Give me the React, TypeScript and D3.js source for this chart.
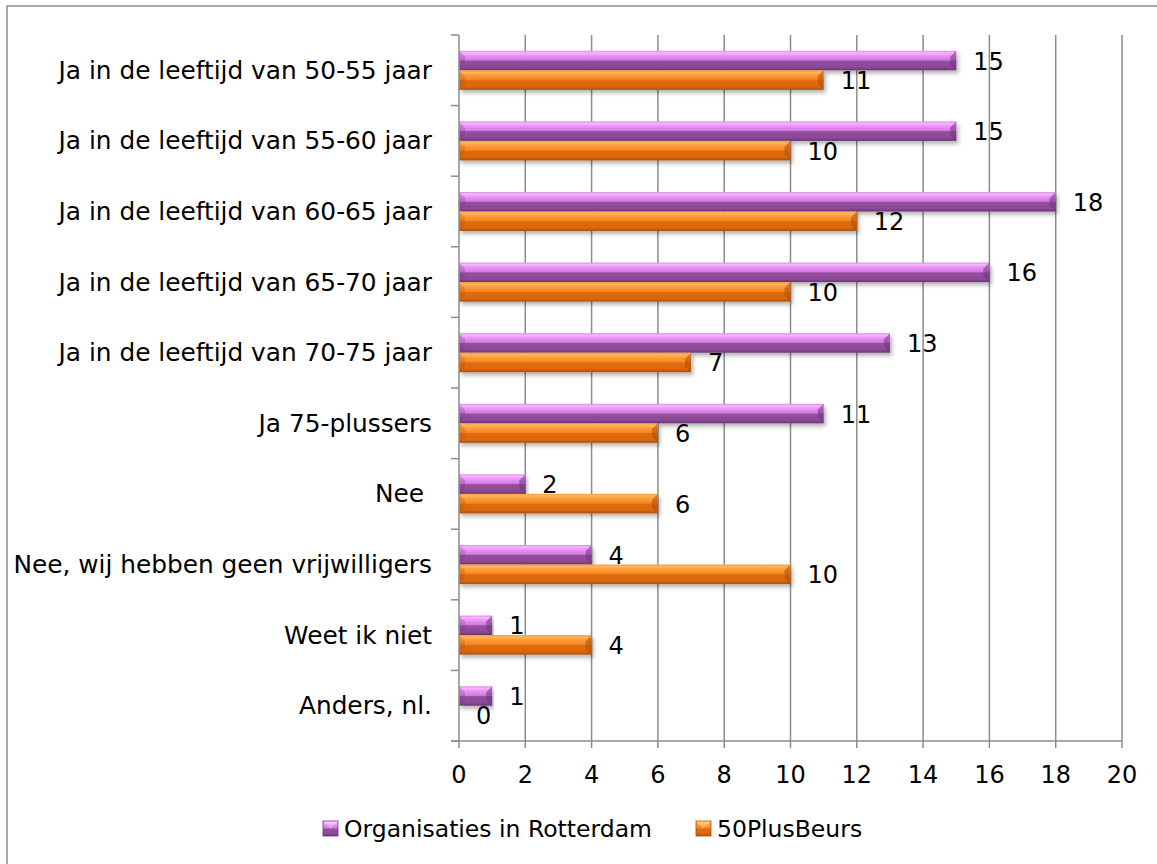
import React from "react";
import * as d3 from "d3";

const categories = [
  "Ja in de leeftijd van 50-55 jaar",
  "Ja in de leeftijd van 55-60 jaar",
  "Ja in de leeftijd van 60-65 jaar",
  "Ja in de leeftijd van 65-70 jaar",
  "Ja in de leeftijd van 70-75 jaar",
  "Ja 75-plussers",
  "Nee ",
  "Nee, wij hebben geen vrijwilligers",
  "Weet ik niet",
  "Anders, nl.",
];
const rotterdam = [15, 15, 18, 16, 13, 11, 2, 4, 1, 1];
const plusBeurs = [11, 10, 12, 10, 7, 6, 6, 10, 4, 0];
const xTicks = [0, 2, 4, 6, 8, 10, 12, 14, 16, 18, 20];
const seriesNames = ["Organisaties in Rotterdam", "50PlusBeurs"];

const FONT = "'DejaVu Sans', Verdana, sans-serif";

export default function App() {
  const W = 1157, H = 864;
  const x = d3.scaleLinear().domain([0, 20]).range([459, 1122]);
  const y = d3.scaleBand<string>().domain(categories).range([35, 741]).paddingInner(0).paddingOuter(0);
  const barH = 19.5;
  const series = [
    { name: seriesNames[0], values: rotterdam, grad: "gP", face: "#6e3480", offset: -barH },
    { name: seriesNames[1], values: plusBeurs, grad: "gO", face: "#a94e0c", offset: 0 },
  ];
  const bounds = d3.range(categories.length + 1).map((i) => 35 + i * y.bandwidth());

  return (
    <svg width={W} height={H} style={{ position: "absolute", left: 0, top: 0, background: "#fff" }} fontFamily={FONT}>
      <defs>
        <linearGradient id="gP" x1="0" y1="0" x2="0" y2="1">
          <stop offset="0" stopColor="#d98ae8" />
          <stop offset="0.1" stopColor="#f8b6ff" />
          <stop offset="0.22" stopColor="#ee98f8" />
          <stop offset="0.48" stopColor="#cf78de" />
          <stop offset="0.52" stopColor="#96509f" />
          <stop offset="0.85" stopColor="#8b4896" />
          <stop offset="1" stopColor="#6a3475" />
        </linearGradient>
        <linearGradient id="gO" x1="0" y1="0" x2="0" y2="1">
          <stop offset="0" stopColor="#f89a3c" />
          <stop offset="0.1" stopColor="#ffb65a" />
          <stop offset="0.22" stopColor="#ffa040" />
          <stop offset="0.48" stopColor="#f4851e" />
          <stop offset="0.52" stopColor="#e26c0e" />
          <stop offset="0.85" stopColor="#d9660c" />
          <stop offset="1" stopColor="#a9500c" />
        </linearGradient>
        <filter id="sh" x="-5%" y="-30%" width="110%" height="180%">
          <feDropShadow dx="2" dy="3" stdDeviation="2" floodColor="#000" floodOpacity="0.3" />
        </filter>
      </defs>

      {/* frame */}
      <rect x={7} y={6} width={1160} height={870} fill="none" stroke="#8a8a8a" strokeWidth={1.5} />

      {/* gridlines */}
      {xTicks.slice(1).map((t) => (
        <line key={"g" + t} x1={x(t)} x2={x(t)} y1={35} y2={741} stroke="#8c8c8c" strokeWidth={1.5} />
      ))}

      {/* bars */}
      {categories.map((c, i) => {
        const cy = (y(c) as number) + y.bandwidth() / 2;
        return (
          <g key={c}>
            {series.map((s) => {
              const v = s.values[i];
              if (v <= 0) return null;
              const x0 = x(0), x1 = x(v);
              const top = cy + s.offset;
              const b = Math.min(6, (x1 - x0) / 2);
              return (
                <g key={s.name} filter="url(#sh)">
                  <rect x={x0} y={top} width={x1 - x0} height={barH} fill={`url(#${s.grad})`} />
                  <polygon
                    points={`${x1 - b},${top + b} ${x1},${top} ${x1},${top + barH} ${x1 - b},${top + barH - b}`}
                    fill={s.face}
                    opacity={0.55}
                  />
                  <polygon
                    points={`${x0},${top} ${x0 + b},${top + b} ${x0 + b},${top + barH - b} ${x0},${top + barH}`}
                    fill={s.face}
                    opacity={0.25}
                  />
                </g>
              );
            })}
          </g>
        );
      })}

      {/* value labels */}
      {categories.map((c, i) => {
        const cy = (y(c) as number) + y.bandwidth() / 2;
        return series.map((s) => (
          <text
            key={c + s.name}
            x={x(s.values[i]) + 17}
            y={cy + s.offset + barH / 2 + 9}
            fontSize={24}
            fill="#000"
          >
            {s.values[i]}
          </text>
        ));
      })}

      {/* axes */}
      <line x1={459} x2={459} y1={35} y2={741} stroke="#8c8c8c" strokeWidth={1.5} />
      {bounds.map((b, i) => (
        <line key={"yt" + i} x1={451} x2={459} y1={b} y2={b} stroke="#8c8c8c" strokeWidth={1.5} />
      ))}
      <line x1={451} x2={1122} y1={741} y2={741} stroke="#8c8c8c" strokeWidth={1.5} />
      {xTicks.map((t) => (
        <line key={"xt" + t} x1={x(t)} x2={x(t)} y1={741} y2={748} stroke="#8c8c8c" strokeWidth={1.5} />
      ))}
      {xTicks.map((t) => (
        <text key={"xl" + t} x={x(t)} y={783} textAnchor="middle" fontSize={24} fill="#000">
          {t}
        </text>
      ))}

      {/* category labels */}
      {categories.map((c) => (
        <text
          key={"cl" + c}
          x={432}
          y={(y(c) as number) + y.bandwidth() / 2 + 8.5}
          textAnchor="end"
          fontSize={24.8}
          fill="#000"
          style={{ whiteSpace: "pre" }}
        >
          {c}
        </text>
      ))}

      {/* legend */}
      {[
        { lx: 323, grad: "gP", stroke: "#6e3480", name: seriesNames[0] },
        { lx: 696, grad: "gO", stroke: "#a94e0c", name: seriesNames[1] },
      ].map((l) => (
        <g key={l.name}>
          <rect x={l.lx} y={821} width={15} height={15} fill={`url(#${l.grad})`} stroke={l.stroke} strokeWidth={0.8} />
          <polygon
            points={`${l.lx},${821} ${l.lx + 7.5},${828.5} ${l.lx + 15},${821}`}
            fill="#fff"
            opacity={0.25}
          />
          <text x={l.lx + 21} y={837} fontSize={23.5} fill="#000">
            {l.name}
          </text>
        </g>
      ))}
    </svg>
  );
}
